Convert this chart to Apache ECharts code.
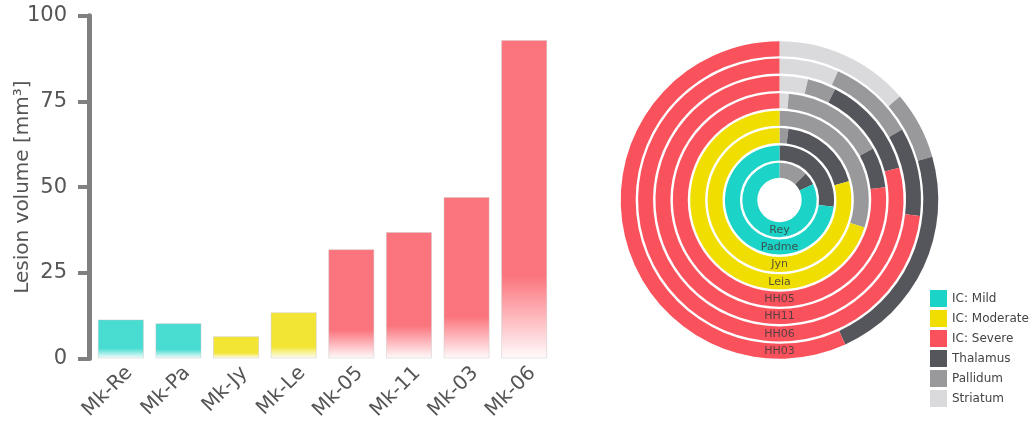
<!DOCTYPE html>
<html>
<head>
<meta charset="utf-8">
<script src="https://cdn.jsdelivr.net/npm/echarts@6/dist/echarts.min.js"></script>
<style>
html,body{margin:0;padding:0;background:#fff;}
#chart{width:1032px;height:438px;}
</style>
</head>
<body>
<div id="chart"></div>
<script>
// ---- Bar chart data ----
const barCategories = ['Mk-Re', 'Mk-Pa', 'Mk-Jy', 'Mk-Le', 'Mk-05', 'Mk-11', 'Mk-03', 'Mk-06'];
const barValues = [11.4, 10.3, 6.5, 13.5, 31.9, 36.9, 47.1, 92.9];
const barGroups = ['Mild', 'Mild', 'Moderate', 'Moderate', 'Severe', 'Severe', 'Severe', 'Severe'];
const yTicks = [0, 25, 50, 75, 100];

// ---- Ring chart data (percent of each ring, clockwise from 12 o'clock) ----
const ringNames = ['Rey', 'Padme', 'Jyn', 'Leia', 'HH05', 'HH11', 'HH06', 'HH03'];
const striatum = [0, 0, 0, 0, 1.4, 3.7, 6.8, 13.7];
const pallidum = [12.5, 0, 2, 30, 15.6, 3.7, 9.9, 6.9];
const thalamus = [5.5, 27, 18.8, 0, 6.1, 13.4, 10.1, 22.6];
const icMild = [82, 73, 0, 0, 0, 0, 0, 0];
const icModerate = [0, 0, 79.2, 70, 0, 0, 0, 0];
const icSevere = [0, 0, 0, 0, 76.9, 79.2, 73.2, 56.8];
const legendOrder = ['IC: Mild', 'IC: Moderate', 'IC: Severe', 'Thalamus', 'Pallidum', 'Striatum'];

// ---- Styles ----
const FONT = 'DejaVu Sans';
const ringColors = {
  'Striatum': '#dadadc',
  'Pallidum': '#99999b',
  'Thalamus': '#55565b',
  'IC: Mild': '#1bd3c6',
  'IC: Moderate': '#f0de00',
  'IC: Severe': '#fa525d'
};
const barRGB = {
  'Mild': [27, 211, 198],
  'Moderate': [240, 222, 0],
  'Severe': [250, 82, 93]
};
function rgba(c, a) { return 'rgba(' + c[0] + ',' + c[1] + ',' + c[2] + ',' + a + ')'; }

const barData = barValues.map(function (v, i) {
  const c = barRGB[barGroups[i]];
  return {
    value: v,
    itemStyle: {
      color: new echarts.graphic.LinearGradient(0, 0, 0, 1, [
        { offset: 0, color: rgba(c, 0.8) },
        { offset: 0.74, color: rgba(c, 0.8) },
        { offset: 1, color: rgba(c, 0.02) }
      ]),
      borderColor: 'rgba(200,200,200,0.45)',
      borderWidth: 1
    }
  };
});

function ringSeries(name, data) {
  return {
    name: name,
    type: 'bar',
    coordinateSystem: 'polar',
    polarIndex: 0,
    stack: 'ring',
    data: data,
    barCategoryGap: '14%',
    itemStyle: { color: ringColors[name] },
    emphasis: { disabled: true },
    animation: false
  };
}

const chart = echarts.init(document.getElementById('chart'), null, { renderer: 'canvas' });
chart.setOption({
  animation: false,
  backgroundColor: '#ffffff',
  textStyle: { fontFamily: FONT },
  grid: { left: 92, right: 479, top: 15.7, bottom: 79.5, containLabel: false },
  xAxis: {
    type: 'category',
    data: barCategories,
    axisLine: { show: false },
    axisTick: { show: false },
    axisLabel: {
      interval: 0, rotate: 45, fontSize: 20, color: '#555', margin: 3,
      verticalAlign: 'top', lineHeight: 24, fontFamily: FONT
    }
  },
  yAxis: {
    type: 'value',
    min: yTicks[0],
    max: yTicks[yTicks.length - 1],
    interval: 25,
    offset: 3,
    name: 'Lesion volume [mm³]',
    nameLocation: 'middle',
    nameGap: 56,
    nameMoveOverlap: false,
    nameTextStyle: { fontSize: 20, color: '#555', fontFamily: FONT },
    axisLine: { show: true, lineStyle: { color: '#808080', width: 5 } },
    axisTick: { show: true, length: 11, lineStyle: { color: '#808080', width: 4 } },
    axisLabel: { fontSize: 21, color: '#555', margin: 22, fontFamily: FONT },
    splitLine: { show: false }
  },
  polar: [
    { center: [779.5, 200], radius: [21, 160] },
    { center: [779.5, 200], radius: [21, 160] }
  ],
  angleAxis: [
    { polarIndex: 0, type: 'value', min: 0, max: 100, startAngle: 90, clockwise: true, show: false },
    { polarIndex: 1, type: 'value', min: 0, max: 100, startAngle: 270, show: false }
  ],
  radiusAxis: [
    { polarIndex: 0, type: 'category', data: ringNames, show: false },
    {
      polarIndex: 1, type: 'category', data: ringNames,
      axisLine: { show: false }, axisTick: { show: false }, splitLine: { show: false },
      axisLabel: {
        interval: 0, margin: 0, align: 'center', verticalAlign: 'middle',
        fontSize: 11, color: 'rgba(60,60,60,0.85)', fontFamily: FONT
      },
      z: 10
    }
  ],
  legend: {
    data: legendOrder,
    orient: 'vertical',
    left: 930,
    top: 290,
    padding: 0,
    itemWidth: 17,
    itemHeight: 17,
    itemGap: 3,
    icon: 'rect',
    selectedMode: false,
    textStyle: { fontSize: 12, color: '#444', fontFamily: FONT }
  },
  series: [
    {
      name: 'Lesion volume',
      type: 'bar',
      xAxisIndex: 0,
      yAxisIndex: 0,
      barCategoryGap: '20%',
      data: barData,
      emphasis: { disabled: true }
    },
    ringSeries('Striatum', striatum),
    ringSeries('Pallidum', pallidum),
    ringSeries('Thalamus', thalamus),
    ringSeries('IC: Mild', icMild),
    ringSeries('IC: Moderate', icModerate),
    ringSeries('IC: Severe', icSevere)
  ]
});
</script>
</body>
</html>
